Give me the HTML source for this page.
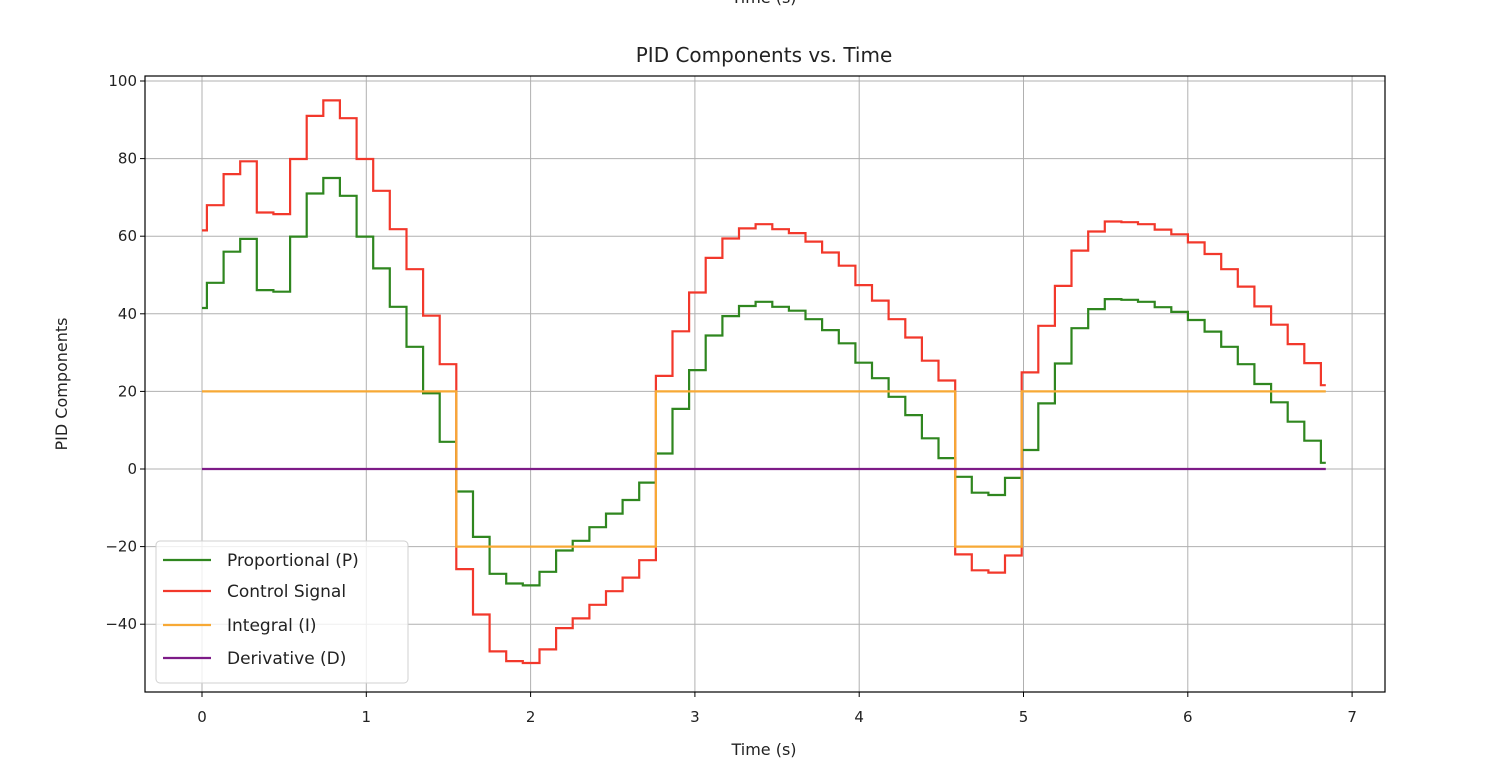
<!DOCTYPE html>
<html><head><meta charset="utf-8"><style>
html,body{margin:0;padding:0;background:#fff;}
svg{display:block;font-family:"DejaVu Sans","Liberation Sans",sans-serif;}
</style></head><body>
<svg id="chart" width="1510" height="782" viewBox="0 0 1510 782" xmlns="http://www.w3.org/2000/svg">
<text x="764" y="3" text-anchor="middle" font-size="16" fill="#222">Time (s)</text>
<text x="764" y="62" text-anchor="middle" font-size="20" fill="#222">PID Components vs. Time</text>
<text x="764" y="755" text-anchor="middle" font-size="16" fill="#222">Time (s)</text>
<text transform="translate(67,384) rotate(-90)" text-anchor="middle" font-size="16" fill="#222">PID Components</text>
<g id="grid"></g>
<g id="series"></g>
<rect x="145" y="76" width="1240" height="616" fill="none" stroke="#000" stroke-width="1.2"/>
<g id="ticks"></g>
<g id="legend"></g>
</svg>
<script>
const xTicks=[0,1,2,3,4,5,6,7];
const yTicks=[100,80,60,40,20,0,-20,-40];
const yTickLabels=["100","80","60","40","20","0","\u221220","\u221240"];
const tStart=0, tFirst=0.03, tStep=0.1012, tEnd=6.84;
const pVals=[41.5,48,56,59.3,46.1,45.7,59.9,71,75,70.4,59.9,51.7,41.8,31.5,19.5,7,
-5.8,-17.5,-27,-29.5,-30,-26.5,-21,-18.5,-15,-11.5,-8,-3.5,
4,15.5,25.5,34.4,39.4,42,43.1,41.8,40.8,38.6,35.8,32.4,27.4,23.4,18.6,13.9,7.9,2.8,
-2,-6.1,-6.7,-2.3,
4.9,16.9,27.2,36.3,41.2,43.8,43.6,43.1,41.7,40.5,38.4,35.4,31.5,27,21.9,17.2,12.2,7.3,1.6];
const iVals=[20,20,20,20,20,20,20,20,20,20,20,20,20,20,20,20,
-20,-20,-20,-20,-20,-20,-20,-20,-20,-20,-20,-20,
20,20,20,20,20,20,20,20,20,20,20,20,20,20,20,20,20,20,
-20,-20,-20,-20,
20,20,20,20,20,20,20,20,20,20,20,20,20,20,20,20,20,20,20];
const dVals=new Array(69).fill(0);
const cVals=[61.5,68,76,79.3,66.1,65.7,79.9,91,95,90.4,79.9,71.7,61.8,51.5,39.5,27,
-25.8,-37.5,-47,-49.5,-50,-46.5,-41,-38.5,-35,-31.5,-28,-23.5,
24,35.5,45.5,54.4,59.4,62,63.1,61.8,60.8,58.6,55.8,52.4,47.4,43.4,38.6,33.9,27.9,22.8,
-22,-26.1,-26.7,-22.3,
24.9,36.9,47.2,56.3,61.2,63.8,63.6,63.1,61.7,60.5,58.4,55.4,51.5,47,41.9,37.2,32.2,27.3,21.6];
const seriesNames=["Proportional (P)","Control Signal","Integral (I)","Derivative (D)"];

const NS="http://www.w3.org/2000/svg";
const X0=145,X1=1385,Y0=76,Y1=692;
function xs(t){return 202+t*164.3;}
function ys(v){return 469-v*3.88;}
function mk(tag,attrs,parent){const e=document.createElementNS(NS,tag);for(const k in attrs)e.setAttribute(k,attrs[k]);parent.appendChild(e);return e;}
const grid=document.getElementById('grid'),ticks=document.getElementById('ticks'),series=document.getElementById('series'),legend=document.getElementById('legend');
xTicks.forEach(t=>{const x=xs(t);
 const g=mk('line',{x1:x,x2:x,y1:Y0,y2:Y1,stroke:'#b0b0b0','stroke-width':1},grid);
 
 
 mk('line',{x1:x,x2:x,y1:Y1,y2:Y1+5,stroke:'#000'},ticks);
 const l=mk('text',{x:x,y:722,'text-anchor':'middle','font-size':15,fill:'#222'},ticks);l.textContent=t;
 
 
});
yTicks.forEach((v,i)=>{const y=ys(v);
 const g=mk('line',{x1:X0,x2:X1,y1:y,y2:y,stroke:'#b0b0b0','stroke-width':1},grid);
 
 
 mk('line',{x1:X0-5,x2:X0,y1:y,y2:y,stroke:'#000'},ticks);
 const l=mk('text',{x:X0-8,y:y+5,'text-anchor':'end','font-size':15,fill:'#222'},ticks);l.textContent=yTickLabels[i];
 
 
});
function stepPath(vals){
 let d='';const n=vals.length;
 for(let k=0;k<n;k++){
  const a=k===0?tStart:tFirst+(k-1)*tStep;
  const b=k===n-1?tEnd:tFirst+k*tStep;
  d+=(k===0?'M':'L')+xs(a).toFixed(1)+','+ys(vals[k]).toFixed(1)+'L'+xs(b).toFixed(1)+','+ys(vals[k]).toFixed(1);
 }
 return d;
}
const defs=[[pVals,'#2f861f','proportional-line'],[cVals,'#f2382b','control-signal-line'],[iVals,'#f7a935','integral-line'],[dVals,'#7d1b87','derivative-line']];
defs.forEach(([vals,col,name])=>{
 const p=mk('path',{d:stepPath(vals),fill:'none',stroke:col,'stroke-width':2.2,'stroke-linejoin':'miter'},series);
 
 
});
const box=mk('rect',{x:156,y:541,width:252,height:142,rx:4,fill:'#fff','fill-opacity':0.8,stroke:'#d0d0d0'},legend);


const ly=[560,591,625,658];
defs.forEach(([vals,col],i)=>{
 const ln=mk('line',{x1:163,x2:211,y1:ly[i],y2:ly[i],stroke:col,'stroke-width':2.2},legend);
 
 
 const t=mk('text',{x:227,y:ly[i]+6,'font-size':17,fill:'#222'},legend);t.textContent=seriesNames[i];
 
 
});
</script>
</body></html>
